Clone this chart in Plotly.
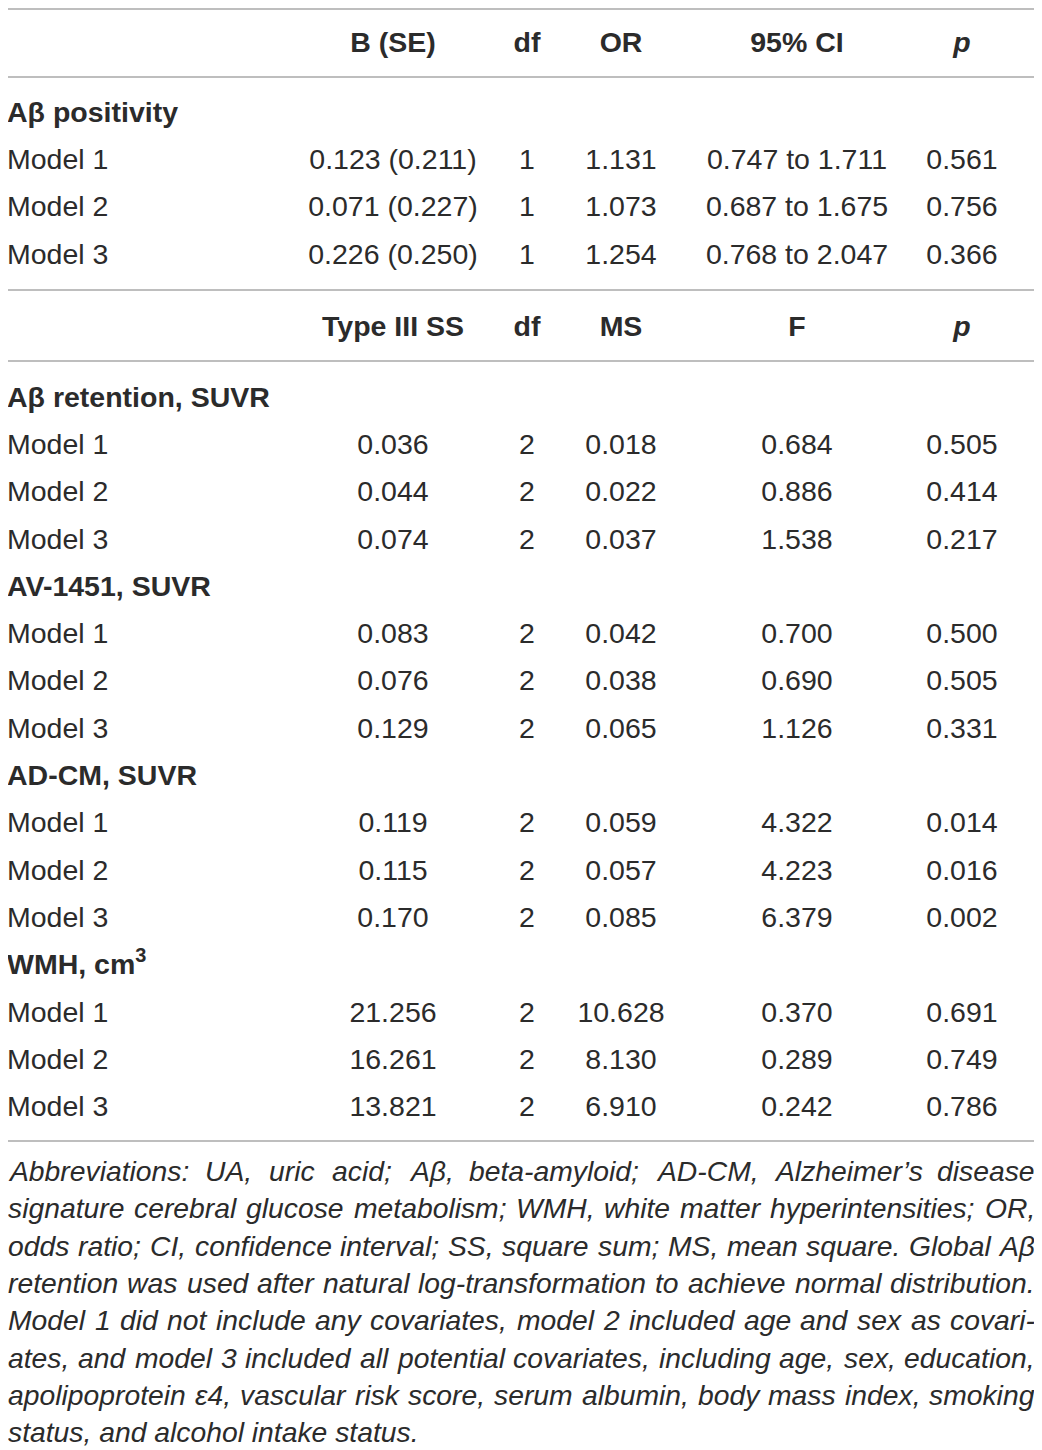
import plotly.graph_objects as go

# ---- data ----
models = ["Model 1", "Model 2", "Model 3"]

# logistic regression, A-beta positivity
pos_label = "Aβ positivity"
pos_b = [0.123, 0.071, 0.226]
pos_se = [0.211, 0.227, 0.250]
pos_df = [1, 1, 1]
pos_or = [1.131, 1.073, 1.254]
pos_ci_low = [0.747, 0.687, 0.768]
pos_ci_high = [1.711, 1.675, 2.047]
pos_p = [0.561, 0.756, 0.366]

# ANCOVA outcomes
outcomes = ["Aβ retention, SUVR", "AV-1451, SUVR", "AD-CM, SUVR", "WMH, cm<sup>3</sup>"]
ss = [[0.036, 0.044, 0.074], [0.083, 0.076, 0.129], [0.119, 0.115, 0.170], [21.256, 16.261, 13.821]]
dfs = [[2, 2, 2], [2, 2, 2], [2, 2, 2], [2, 2, 2]]
ms = [[0.018, 0.022, 0.037], [0.042, 0.038, 0.065], [0.059, 0.057, 0.085], [10.628, 8.130, 6.910]]
fval = [[0.684, 0.886, 1.538], [0.700, 0.690, 1.126], [4.322, 4.223, 6.379], [0.370, 0.289, 0.242]]
pval = [[0.505, 0.414, 0.217], [0.500, 0.505, 0.331], [0.014, 0.016, 0.002], [0.691, 0.749, 0.786]]

header_top = ["B (SE)", "df", "OR", "95% CI", "<i>p</i>"]
header_bottom = ["Type III SS", "df", "MS", "F", "<i>p</i>"]

footnote = [
    "Abbreviations: UA, uric acid; Aβ, beta-amyloid; AD-CM, Alzheimer’s disease",
    "signature cerebral glucose metabolism; WMH, white matter hyperintensities; OR,",
    "odds ratio; CI, confidence interval; SS, square sum; MS, mean square. Global Aβ",
    "retention was used after natural log-transformation to achieve normal distribution.",
    "Model 1 did not include any covariates, model 2 included age and sex as covari-",
    "ates, and model 3 included all potential covariates, including age, sex, education,",
    "apolipoprotein ε4, vascular risk score, serum albumin, body mass index, smoking",
    "status, and alcohol intake status.",
]

# ---- layout constants ----
W, H = 1042, 1450
PAGE_PAD = 8  # the html body margin the page puts round the figure
FONT = "Liberation Sans, Arial, Helvetica, sans-serif"
INK = "#2b2b2b"
RULE = "#a9a9a9"
SIZE = 28.5
LEFT, RIGHT = 8, 1036
col_x = [393, 527, 621, 797, 962]
pitch = 47.3
dy = 2.5  # text baseline nudge

fig = go.Figure()


def add_row(y, cells, bold=False):
    txt = [f"<b>{c}</b>" if bold else c for c in cells]
    fig.add_trace(go.Scatter(
        x=col_x[:len(cells)], y=[y + dy] * len(cells), mode="text", text=txt,
        textposition="middle center",
        textfont=dict(family=FONT, size=SIZE, color=INK),
        hoverinfo="skip", showlegend=False,
    ))


def add_label(y, label, bold=False):
    fig.add_trace(go.Scatter(
        x=[LEFT - 1], y=[y + dy], mode="text", text=[f"<b>{label}</b>" if bold else label],
        textposition="middle right",
        textfont=dict(family=FONT, size=SIZE, color=INK),
        hoverinfo="skip", showlegend=False,
    ))


# top block
add_row(42, header_top, bold=True)
y = 112
add_label(y, pos_label, bold=True)
for i, m in enumerate(models):
    y += pitch
    add_label(y, m)
    add_row(y, [f"{pos_b[i]:.3f} ({pos_se[i]:.3f})", str(pos_df[i]), f"{pos_or[i]:.3f}",
                f"{pos_ci_low[i]:.3f} to {pos_ci_high[i]:.3f}", f"{pos_p[i]:.3f}"])

# bottom block
add_row(326, header_bottom, bold=True)
y = 397
for k, name in enumerate(outcomes):
    add_label(y, name, bold=True)
    for i, m in enumerate(models):
        y += pitch
        add_label(y, m)
        add_row(y, [f"{ss[k][i]:.3f}", str(dfs[k][i]), f"{ms[k][i]:.3f}",
                    f"{fval[k][i]:.3f}", f"{pval[k][i]:.3f}"])
    y += pitch

# horizontal rules (top one sits just inside the figure's top edge)
for ry in [9, 77, 290, 361, 1141]:
    fig.add_shape(type="line", x0=LEFT, x1=RIGHT, y0=ry, y1=ry, xref="x", yref="y",
                  line=dict(color=RULE, width=1.6))

# ---- justified footnote ----
ARIAL = {
    " ": 278, "!": 278, "'": 191, "(": 333, ")": 333, ",": 278, "-": 333, ".": 278,
    ":": 278, ";": 278, "%": 889, "’": 222, "β": 575, "ε": 446,
    "A": 667, "B": 667, "C": 722, "D": 722, "E": 667, "F": 611, "G": 778, "H": 722,
    "I": 278, "J": 500, "K": 667, "L": 556, "M": 833, "N": 722, "O": 778, "P": 667,
    "Q": 778, "R": 722, "S": 667, "T": 611, "U": 722, "V": 667, "W": 944, "X": 667,
    "Y": 667, "Z": 611,
    "a": 556, "b": 556, "c": 500, "d": 556, "e": 556, "f": 278, "g": 556, "h": 556,
    "i": 222, "j": 222, "k": 500, "l": 222, "m": 833, "n": 556, "o": 556, "p": 556,
    "q": 556, "r": 333, "s": 500, "t": 278, "u": 556, "v": 500, "w": 722, "x": 500,
    "y": 500, "z": 500,
}


def em_w(s):
    return sum(ARIAL.get(ch, 556) for ch in s) / 1000.0


FN_SIZE = 28.3
fn_y0, fn_pitch = 1170, 37.3
span = RIGHT - LEFT - 1
for li, line in enumerate(footnote):
    ly = fn_y0 + li * fn_pitch + 1
    words = line.split(" ")
    size = min(FN_SIZE, span / em_w(line))
    fnt = dict(family=FONT, size=size, color=INK)
    if li == len(footnote) - 1:
        fig.add_annotation(x=LEFT, xshift=-2, y=ly, xref="x", yref="y", text=f"<i>{line}</i>",
                           showarrow=False, xanchor="left", yanchor="middle", font=fnt)
        continue
    widths = [em_w(w) * size for w in words]
    gap = (span - sum(widths)) / (len(words) - 1)
    x = LEFT
    for wi, w in enumerate(words):
        if wi == len(words) - 1:
            fig.add_annotation(x=RIGHT + 1, y=ly, xref="x", yref="y", text=f"<i>{w}</i>",
                               showarrow=False, xanchor="right", yanchor="middle", font=fnt)
        else:
            fig.add_annotation(x=x, xshift=-2, y=ly, xref="x", yref="y", text=f"<i>{w}</i>",
                               showarrow=False, xanchor="left", yanchor="middle", font=fnt)
        x += widths[wi] + gap

# the page offsets the figure by PAGE_PAD, so the axes start at that pixel
fig.update_xaxes(range=[PAGE_PAD, W], visible=False, fixedrange=True)
fig.update_yaxes(range=[H, PAGE_PAD], visible=False, fixedrange=True)
fig.update_layout(
    width=W - PAGE_PAD, height=H - PAGE_PAD, autosize=False,
    margin=dict(l=0, r=0, t=0, b=0, pad=0),
    paper_bgcolor="white", plot_bgcolor="white",
    showlegend=False,
)
fig.write_html("out.html")
